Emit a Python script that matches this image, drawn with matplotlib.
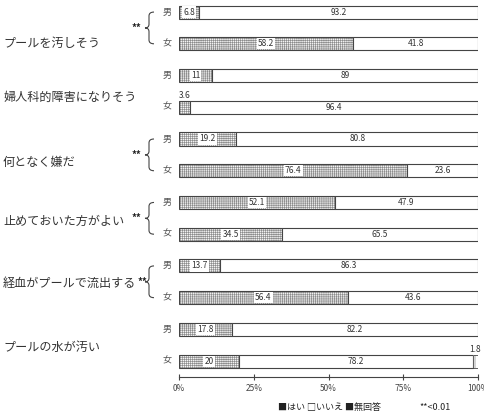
#!/usr/bin/env python3

import matplotlib
matplotlib.use('Agg')
import matplotlib.pyplot as plt
import matplotlib.transforms as mtransforms
from matplotlib.path import Path
from matplotlib.patches import PathPatch
import numpy as np

plt.rcParams['font.family'] = ['Noto Sans CJK JP', 'DejaVu Sans']
plt.rcParams['hatch.linewidth'] = 0.45

# data
items = ['プールを汚しそう', '婦人科的障害になりそう', '何となく嫌だ',
         '止めておいた方がよい', '経血がプールで流出する', 'プールの水が汚い']
sexes = ['男', '女']
yes = [6.8, 58.2, 11, 3.6, 19.2, 76.4, 52.1, 34.5, 13.7, 56.4, 17.8, 20]
no = [93.2, 41.8, 89, 96.4, 80.8, 23.6, 47.9, 65.5, 86.3, 43.6, 82.2, 78.2]
na = [0, 0, 0, 0, 0, 0, 0, 0, 0, 0, 0, 1.8]
signif = [True, False, True, True, True, False]

# layout (label y in data units, tweaked from the picture)
label_y = [0.98, 2.68, 4.73, 6.59, 8.55, 10.57]

fig = plt.figure(figsize=(4.84, 4.11), dpi=100)
ax = fig.add_axes([179/484, 34/411, 299/484, 377/411])

y = np.arange(len(yes))
h = 0.41
left_na = np.array(yes) + np.array(no)
# hatch layer (hatch takes the edge colour), then outlines on top
ax.barh(y, yes, height=h, color='#f4f4f4', edgecolor='#8c8c8c', linewidth=0, hatch='+'*8)
ax.barh(y, yes, height=h, fill=False, edgecolor='#444444', linewidth=0.8)
ax.barh(y, no, left=yes, height=h, color='white', edgecolor='#444444', linewidth=0.8)
ax.barh(y, na, left=left_na, height=h, color='white', edgecolor='#777777', linewidth=0, hatch='|'*5)
ax.barh(y, na, left=left_na, height=h, fill=False, edgecolor='#444444', linewidth=0.6)

for i in range(len(yes)):
    if yes[i] >= 5:
        ax.text(yes[i]/2, i, str(yes[i]), ha='center', va='center', fontsize=6, color='#333333',
                bbox=dict(facecolor='white', edgecolor='none', pad=0.8))
    else:
        ax.text(yes[i]/2, i - 0.24, str(yes[i]), ha='center', va='bottom', fontsize=6, color='#333333')
    ax.text(yes[i] + no[i]/2, i, str(no[i]), ha='center', va='center', fontsize=6, color='#333333')
    if na[i] > 0:
        ax.text(yes[i] + no[i] + na[i]/2, i - 0.24, str(na[i]), ha='center', va='bottom',
                fontsize=6, color='#333333')

ax.set_xlim(0, 100)
ax.set_ylim(11.5, -0.38)
ax.set_xticks([0, 25, 50, 75, 100])
ax.set_xticklabels(['0%', '25%', '50%', '75%', '100%'], fontsize=6, color='#444444')
ax.set_yticks([])
ax.tick_params(axis='x', direction='inout', length=4, width=0.8, color='#444444', pad=3)
for s in ['top', 'right', 'left']:
    ax.spines[s].set_visible(False)
ax.spines['bottom'].set_color('#444444')
ax.spines['bottom'].set_linewidth(0.8)

# left side labels
tr = mtransforms.blended_transform_factory(fig.transFigure, ax.transData)
for i in range(len(yes)):
    fig.text(167/484, i, sexes[i % 2], transform=tr, ha='center', va='center',
             fontsize=6.5, color='#555555')

for g, name in enumerate(items):
    fig.text(3/484, label_y[g], name, transform=tr, ha='left', va='center',
             fontsize=8.7, color='#333333')
    if signif[g]:
        yc = 2*g + 0.5
        sx = 142/484 if g == 4 else 136/484
        fig.text(sx, yc, '**', transform=tr, ha='center', va='center',
                 fontsize=7, color='#222222', fontweight='bold')
        # brace
        x0, xm, x1 = 145/484, 149/484, 154/484
        yt, yb = yc - 0.5, yc + 0.5
        d = 0.12
        verts = [(x1, yt), (xm, yt), (xm, yt + d),
                 (xm, yc - d), (xm, yc), (x0, yc),
                 (xm, yc), (xm, yc + d),
                 (xm, yb - d), (xm, yb), (x1, yb)]
        codes = [Path.MOVETO, Path.CURVE3, Path.CURVE3,
                 Path.LINETO, Path.CURVE3, Path.CURVE3,
                 Path.CURVE3, Path.CURVE3,
                 Path.LINETO, Path.CURVE3, Path.CURVE3]
        fig.add_artist(PathPatch(Path(verts, codes), transform=tr, fill=False,
                                 edgecolor='#444444', linewidth=0.8))

fig.text(330/484, 4/411, '■はい □いいえ ■無回答', ha='center', va='center',
         fontsize=6.5, color='#222222')
fig.text(435/484, 4/411, '**<0.01', ha='center', va='center', fontsize=6.5, color='#222222')

plt.savefig('out.png', dpi=100)
